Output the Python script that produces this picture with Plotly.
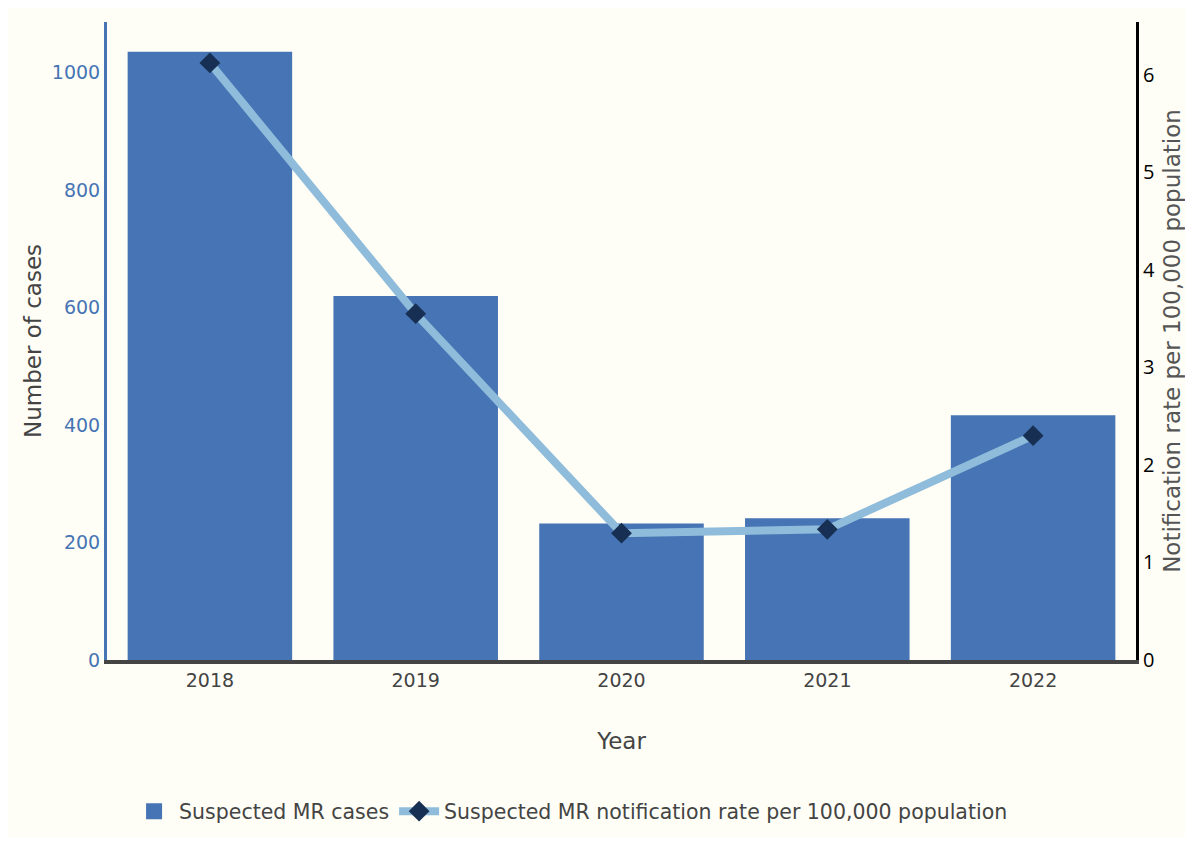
import plotly.graph_objects as go

years = ["2018", "2019", "2020", "2021", "2022"]
cases = [1032, 616, 229, 238, 413]
rate = [6.12, 3.55, 1.30, 1.34, 2.30]

bar_name = "Suspected MR cases"
line_name = "Suspected MR notification rate per 100,000 population"
y2_title = "Notification rate per 100,000 population"

BG = "#fefef6"
FONT = "Verdana, DejaVu Sans, sans-serif"

fig = go.Figure()
fig.add_trace(go.Bar(
    x=years, y=cases, name=bar_name,
    marker=dict(color="#4674b4", line=dict(width=4, color="#4674b4")),
    yaxis="y",
))
fig.add_trace(go.Scatter(
    x=years, y=rate, name=line_name, mode="lines+markers",
    line=dict(color="#8fbcdb", width=8),
    marker=dict(symbol="diamond", color="#172f52", size=16),
    yaxis="y2",
))

fig.update_layout(
    paper_bgcolor=BG,
    plot_bgcolor=BG,
    font=dict(family=FONT, size=19, color="#444444"),
    bargap=0.22,
    margin=dict(l=99, r=49, t=14, b=177, autoexpand=False),
    xaxis=dict(
        title=dict(text="Year", font=dict(size=23, color="#444444"), standoff=44),
        showline=True, linecolor="#444444", linewidth=4,
        tickfont=dict(size=19, color="#444444"),
        showgrid=False, ticks="", automargin=False,
    ),
    yaxis=dict(
        title=dict(text="Number of cases", font=dict(size=23, color="#444444"), standoff=4),
        range=[0, 1086],
        showline=True, linecolor="#4674b4", linewidth=3,
        tickfont=dict(size=19, color="#4674b4"),
        tickvals=[0, 200, 400, 600, 800, 1000],
        showgrid=False, zeroline=False, automargin=False,
    ),
    yaxis2=dict(
        title=dict(text=y2_title, font=dict(size=23, color="#555555"), standoff=31),
        overlaying="y", side="right",
        range=[0, 6.54],
        showline=True, linecolor="#000000", linewidth=3,
        tickfont=dict(size=20, color="#000000", family="Open Sans, sans-serif"),
        tickvals=[0, 1, 2, 3, 4, 5, 6],
        showgrid=False, zeroline=False, automargin=False,
    ),
    legend=dict(
        orientation="h", x=0.451, xanchor="center",
        yref="container", y=0.031, yanchor="middle",
        font=dict(size=20.5, color="#444444"),
        bgcolor="rgba(0,0,0,0)", itemwidth=40,
    ),
)

fig.write_html("out.html")
